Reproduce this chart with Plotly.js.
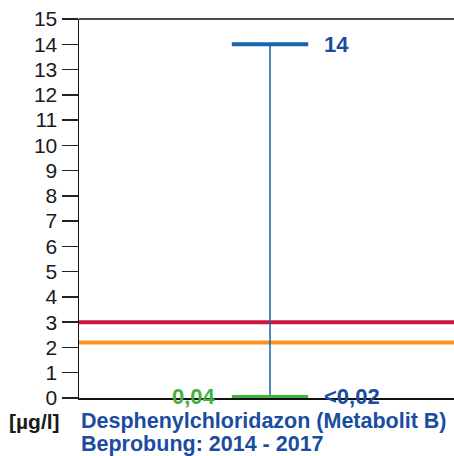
<!DOCTYPE html>
<html><head><meta charset="utf-8">
<script src="https://cdn.plot.ly/plotly-3.0.1.min.js"></script>
<style>html,body{margin:0;padding:0;overflow:hidden;background:#fff}</style>
</head><body><div id="chart" style="width:454px;height:456px"></div>
<script>
// Data
const substance = "Desphenylchloridazon (Metabolit B)";
const period = "Beprobung: 2014 - 2017";
const unit = "[µg/l]";
const maxValue = 14;
const maxLabel = "14";
const minValue = 0.04;
const minLabel = "0,04";
const lowLabel = "<0,02";
const thresholdRed = 3;
const thresholdOrange = 2.2;
const yTickVals = [0,1,2,3,4,5,6,7,8,9,10,11,12,13,14,15];
const yTickText = ["0","1","2","3","4","5","6","7","8","9","10","11","12","13","14","15"];

const xRange = [-1, 0.963];
const blue = "#1763b0", blueText = "#1a4da0", green = "#44b040";
const font = "Liberation Sans, Arial, sans-serif";

const traces = [
  {x: xRange, y: [thresholdOrange, thresholdOrange], mode: "lines", line: {color: "#f7931e", width: 4}, hoverinfo: "skip"},
  {x: xRange, y: [thresholdRed, thresholdRed], mode: "lines", line: {color: "#c8163c", width: 4}, hoverinfo: "skip"},
  {x: [0, 0], y: [minValue, maxValue], mode: "lines", line: {color: blue, width: 1.5}, hoverinfo: "skip"},
  {x: [-0.2, 0.2], y: [maxValue, maxValue], mode: "lines", line: {color: blue, width: 4}, hoverinfo: "skip"},
  {x: [-0.2, 0.2], y: [minValue, minValue], mode: "lines", line: {color: green, width: 4}, hoverinfo: "skip"}
];

const layout = {
  width: 454, height: 456,
  margin: {l: 79, r: 0, t: 19, b: 58},
  paper_bgcolor: "#fff", plot_bgcolor: "#fff",
  showlegend: false,
  xaxis: {range: xRange, showgrid: false, zeroline: false, showticklabels: false, ticks: "",
          showline: true, linecolor: "#111", linewidth: 1.5},
  yaxis: {range: [0, 15], tickvals: yTickVals, ticktext: yTickText, ticks: "outside", ticklen: 16,
          tickwidth: 1.5, tickcolor: "#222", showgrid: false, zeroline: false,
          showline: true, linecolor: "#111", linewidth: 1.5,
          tickfont: {family: font, size: 21, color: "#1a1a1a"}},
  shapes: [
    {type: "line", xref: "paper", yref: "paper", x0: 0, x1: 1, y0: 1, y1: 1, line: {color: "#111", width: 1.5}}
  ],
  annotations: [
    {x: 0.27, y: maxValue, xref: "x", yref: "y", text: "<b>" + maxLabel + "</b>", showarrow: false, xanchor: "left",
     font: {family: font, size: 22, color: blueText}},
    {x: 0.27, y: minValue, xref: "x", yref: "y", text: "<b>" + lowLabel + "</b>", showarrow: false, xanchor: "left",
     font: {family: font, size: 22, color: blueText}},
    {x: -0.27, y: minValue, xref: "x", yref: "y", text: "<b>" + minLabel + "</b>", showarrow: false, xanchor: "right",
     font: {family: font, size: 22, color: green}},
    {x: 0, y: 0, xref: "paper", yref: "paper", xshift: -72, yshift: -23, text: "<b>" + unit + "</b>", showarrow: false,
     xanchor: "left", yanchor: "middle", font: {family: font, size: 21, color: "#1a1a1a"}},
    {x: 0, y: 0, xref: "paper", yref: "paper", xshift: 0, yshift: -23, text: "<b>" + substance + "</b>", showarrow: false,
     xanchor: "left", yanchor: "middle", font: {family: font, size: 21.5, color: blueText}},
    {x: 0, y: 0, xref: "paper", yref: "paper", xshift: 0, yshift: -46, text: "<b>" + period + "</b>", showarrow: false,
     xanchor: "left", yanchor: "middle", font: {family: font, size: 21.5, color: blueText}}
  ]
};

Plotly.newPlot("chart", traces, layout, {staticPlot: true, displayModeBar: false});
</script></body></html>
